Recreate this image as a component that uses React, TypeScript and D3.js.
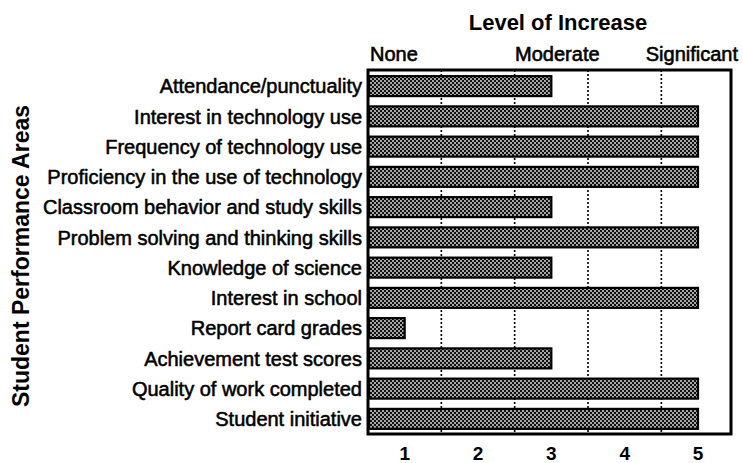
import React from "react";
import * as d3 from "d3";

const categories = [
  "Attendance/punctuality",
  "Interest in technology use",
  "Frequency of technology use",
  "Proficiency in the use of technology",
  "Classroom behavior and study skills",
  "Problem solving and thinking skills",
  "Knowledge of science",
  "Interest in school",
  "Report card grades",
  "Achievement test scores",
  "Quality of work completed",
  "Student initiative",
];
const values = [3, 5, 5, 5, 3, 5, 3, 5, 1, 3, 5, 5];
const tickValues = [1, 2, 3, 4, 5];
const gridValues = [1.5, 2.5, 3.5, 4.5];
const levelLabels = ["None", "Moderate", "Significant"];

const W = 743;
const H = 463;
const FONT = "'Liberation Sans', Arial, Helvetica, sans-serif";

export default function App() {
  const x = d3.scaleLinear().domain([0.5, 5.45]).range([368, 731]);
  const y = d3
    .scaleBand<string>()
    .domain(categories)
    .range([71, 434])
    .paddingInner(0.34)
    .paddingOuter(0.17);
  const top = 70;
  const bottom = 434;

  return (
    <svg
      width={W}
      height={H}
      style={{ position: "absolute", left: 0, top: 0, background: "#fff" }}
      fontFamily={FONT}
    >
      <defs>
        <pattern id="halftone" width={4} height={4} patternUnits="userSpaceOnUse">
          <rect width={4} height={4} fill="#111" />
          <circle cx={1} cy={1} r={0.9} fill="#eee" />
          <circle cx={3} cy={3} r={0.9} fill="#eee" />
        </pattern>
      </defs>
      <rect width={W} height={H} fill="#fff" />

      {/* title */}
      <text x={558} y={30} textAnchor="middle" fontSize={22} fontWeight="bold" fill="#000">
        Level of Increase
      </text>
      <text x={x(0.5) + 2} y={61} textAnchor="start" fontSize={20} fill="#000" stroke="#000" strokeWidth={0.6}>
        {levelLabels[0]}
      </text>
      <text x={x(3) + 6} y={61} textAnchor="middle" fontSize={20} fill="#000" stroke="#000" strokeWidth={0.6}>
        {levelLabels[1]}
      </text>
      <text x={x(5.45) + 7} y={61} textAnchor="end" fontSize={20} fill="#000" stroke="#000" strokeWidth={0.6}>
        {levelLabels[2]}
      </text>

      {/* grid */}
      {gridValues.map((g) => (
        <line
          key={g}
          x1={x(g)}
          x2={x(g)}
          y1={top}
          y2={bottom}
          stroke="#000"
          strokeWidth={1.6}
          strokeDasharray="2,2"
        />
      ))}

      {/* bars */}
      {categories.map((c, i) => (
        <rect
          key={c}
          x={x(0.5) + 1}
          y={y(c)!}
          width={x(values[i]) - x(0.5) - 1}
          height={y.bandwidth()}
          fill="url(#halftone)"
          stroke="#000"
          strokeWidth={2.2}
        />
      ))}

      {/* frame */}
      <rect
        x={x(0.5)}
        y={top}
        width={x(5.45) - x(0.5)}
        height={bottom - top}
        fill="none"
        stroke="#000"
        strokeWidth={3}
      />

      {/* category labels */}
      {categories.map((c) => (
        <text
          key={c}
          x={362}
          y={y(c)! + y.bandwidth() / 2}
          dy="0.36em"
          textAnchor="end"
          fontSize={20}
          fill="#000"
          stroke="#000"
          strokeWidth={0.55}
        >
          {c}
        </text>
      ))}

      {/* tick labels */}
      {tickValues.map((t) => (
        <text key={t} x={x(t)} y={460} textAnchor="middle" fontSize={19} fontWeight="bold" fill="#000">
          {t}
        </text>
      ))}

      {/* y title */}
      <text
        transform={`translate(29,256) rotate(-90)`}
        textAnchor="middle"
        fontSize={23}
        fontWeight="bold"
        fill="#000"
      >
        Student Performance Areas
      </text>
    </svg>
  );
}
